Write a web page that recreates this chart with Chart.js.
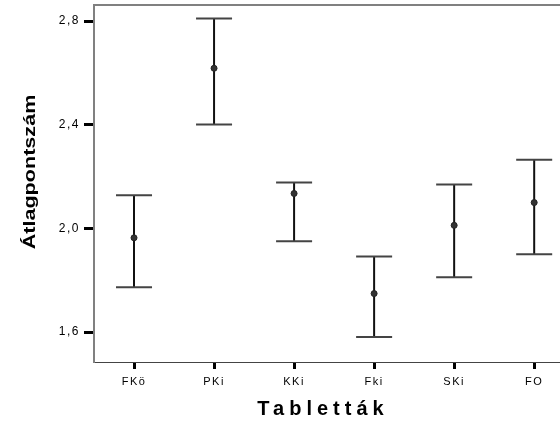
<!DOCTYPE html>
<html>
<head>
<meta charset="utf-8">
<script src="https://cdn.jsdelivr.net/npm/chart.js@4.4.1/dist/chart.umd.min.js"></script>
<style>
  html, body { margin: 0; padding: 0; background: #fff; overflow: hidden; }
  #errChart { display: block; }
</style>
</head>
<body>
<canvas id="errChart" width="560" height="423"></canvas>
<script>
// categories (Tabletták) and the error bar values
const categories = ["FKö", "PKi", "KKi", "Fki", "SKi", "FO"];
const means = [1.964, 2.618, 2.135, 1.749, 2.012, 2.100];
const lowerBounds = [1.773, 2.401, 1.951, 1.581, 1.812, 1.901];
const upperBounds = [2.128, 2.810, 2.177, 1.892, 2.170, 2.265];
const yTicks = [1.6, 2.0, 2.4, 2.8];

const meanPoints = means.map((m, i) => ({ x: i, y: m }));

// draws the whiskers, caps, frame and titles using the chart's own scales
const errorBarPlugin = {
    id: "errorBars",
    beforeDraw(chart) {
        chart.ctx.letterSpacing = "1.5px";
    },
    beforeDatasetsDraw(chart) {
        const ctx = chart.ctx;
        const xs = chart.scales.x;
        const ys = chart.scales.y;
        ctx.save();
        for (let i = 0; i < categories.length; i++) {
            const px = xs.getPixelForValue(i);
            const top = ys.getPixelForValue(upperBounds[i]);
            const bot = ys.getPixelForValue(lowerBounds[i]);
            const half = xs.getPixelForValue(i + 0.225) - px;
            ctx.strokeStyle = "#111";
            ctx.lineWidth = 2;
            ctx.beginPath();
            ctx.moveTo(px, top);
            ctx.lineTo(px, bot);
            ctx.stroke();
            ctx.strokeStyle = "#444";
            ctx.beginPath();
            ctx.moveTo(px - half, top);
            ctx.lineTo(px + half, top);
            ctx.moveTo(px - half, bot);
            ctx.lineTo(px + half, bot);
            ctx.stroke();
        }
        ctx.restore();
    },
    afterDraw(chart) {
        const ctx = chart.ctx;
        const area = chart.chartArea;
        ctx.save();
        // frame top line, and the bottom line running off the right edge
        ctx.strokeStyle = "#808080";
        ctx.lineWidth = 2;
        ctx.beginPath();
        ctx.moveTo(area.left, area.top);
        ctx.lineTo(chart.width, area.top);
        ctx.stroke();
        ctx.strokeStyle = "#444";
        ctx.lineWidth = 1;
        ctx.beginPath();
        ctx.moveTo(area.right - 1, area.bottom + 0.5);
        ctx.lineTo(chart.width, area.bottom + 0.5);
        ctx.stroke();
        // x axis title, letter spaced like the original
        ctx.fillStyle = "#000";
        ctx.font = "bold 20px 'Liberation Sans', Arial, sans-serif";
        ctx.letterSpacing = "5px";
        ctx.textAlign = "center";
        ctx.textBaseline = "middle";
        ctx.fillText("Tabletták", 323, 409);
        ctx.restore();

        // y axis title, stretched along its length
        ctx.save();
        ctx.fillStyle = "#000";
        ctx.font = "bold 17px 'Liberation Sans', Arial, sans-serif";
        ctx.letterSpacing = "0px";
        ctx.textAlign = "center";
        ctx.textBaseline = "middle";
        ctx.translate(30, 172);
        ctx.rotate(-Math.PI / 2);
        ctx.scale(1.27, 1);
        ctx.fillText("Átlagpontszám", 0, 0);
        ctx.restore();
    }
};

const chart = new Chart(document.getElementById("errChart").getContext("2d"), {
    type: "scatter",
    data: {
        datasets: [{
            label: "Átlag",
            data: meanPoints,
            pointStyle: "circle",
            pointRadius: 3,
            pointBackgroundColor: "#333",
            pointBorderColor: "#222",
            pointBorderWidth: 1,
        }],
    },
    options: {
        responsive: false,
        animation: false,
        layout: { padding: { top: 4, right: 0, left: 0, bottom: 0 } },
        plugins: {
            legend: { display: false },
            tooltip: { enabled: false },
        },
        scales: {
            x: {
                type: "linear",
                min: -0.5,
                max: 5.26,
                afterBuildTicks: (scale) => {
                    scale.ticks = categories.map((_, i) => ({ value: i }));
                },
                afterFit: (scale) => {
                    scale.height = 61;
                    scale.paddingLeft = 0;
                    scale.paddingRight = 0;
                },
                ticks: {
                    autoSkip: false,
                    maxRotation: 0,
                    padding: 6,
                    color: "#000",
                    font: { family: "'Liberation Sans', Arial, sans-serif", size: 11 },
                    callback: (v) => categories[v],
                },
                grid: {
                    drawOnChartArea: false,
                    drawTicks: true,
                    tickLength: 7,
                    tickWidth: 3,
                    tickColor: "#000",
                },
                border: { display: true, color: "#444", width: 1 },
            },
            y: {
                min: 1.485,
                max: 2.862,
                afterBuildTicks: (scale) => {
                    scale.ticks = yTicks.map((v) => ({ value: v }));
                },
                afterFit: (scale) => {
                    scale.width = 94;
                    scale.paddingTop = 0;
                    scale.paddingBottom = 0;
                },
                ticks: {
                    padding: 4,
                    color: "#000",
                    font: { family: "'Liberation Sans', Arial, sans-serif", size: 12 },
                    callback: (v) => v.toFixed(1).replace(".", ","),
                },
                grid: {
                    drawOnChartArea: false,
                    drawTicks: true,
                    tickLength: 10,
                    tickWidth: 3,
                    tickColor: "#000",
                },
                border: { display: true, color: "#808080", width: 2 },
            },
        },
    },
    plugins: [errorBarPlugin],
});
</script>
</body>
</html>
